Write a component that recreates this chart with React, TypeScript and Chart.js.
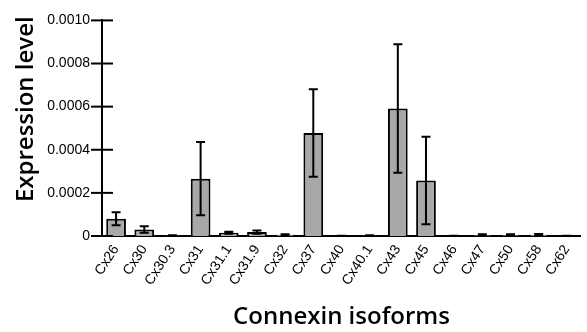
import React, { useEffect, useRef } from "react";
import { Chart, registerables } from "chart.js";

Chart.register(...registerables);

const categories = ["Cx26", "Cx30", "Cx30.3", "Cx31", "Cx31.1", "Cx31.9", "Cx32", "Cx37", "Cx40", "Cx40.1", "Cx43", "Cx45", "Cx46", "Cx47", "Cx50", "Cx58", "Cx62"];
const means = [0.00008, 0.00003, 0.000002, 0.000266, 0.000015, 0.000018, 0.000006, 0.000478, 0.000001, 0.000002, 0.000591, 0.000257, 0.000001, 0.000005, 0.000005, 0.000006, 0.000001];
const errors = [0.00003, 0.000015, 0.000001, 0.00017, 0.000005, 0.000008, 0.000002, 0.000203, 0.0000005, 0.000001, 0.000298, 0.000203, 0.0000005, 0.000003, 0.000003, 0.000003, 0.0000005];
const yTicks = [0, 0.0002, 0.0004, 0.0006, 0.0008, 0.001];
const yTitle = "Expression level";
const xTitle = "Connexin isoforms";

const errorBarPlugin = {
  id: "errorBars",
  afterDatasetsDraw(chart: any) {
    const ctx = chart.ctx;
    const meta = chart.getDatasetMeta(0);
    const y = chart.scales.y;
    ctx.save();
    ctx.strokeStyle = "#000";
    ctx.lineWidth = 2;
    meta.data.forEach((bar: any, i: number) => {
      const top = y.getPixelForValue(means[i] + errors[i]);
      const bot = y.getPixelForValue(Math.max(0, means[i] - errors[i]));
      const x = bar.x;
      ctx.beginPath();
      ctx.moveTo(x, top);
      ctx.lineTo(x, bot);
      ctx.moveTo(x - 4.5, top);
      ctx.lineTo(x + 4.5, top);
      ctx.moveTo(x - 4.5, bot);
      ctx.lineTo(x + 4.5, bot);
      ctx.stroke();
    });
    const ax = chart.chartArea.left;
    ctx.lineWidth = 2;
    yTicks.forEach((v) => {
      const py = y.getPixelForValue(v);
      ctx.beginPath();
      ctx.moveTo(ax - 11, py);
      ctx.lineTo(ax + 11, py);
      ctx.stroke();
    });
    ctx.restore();
  },
  afterDraw(chart: any) {
    const ctx = chart.ctx;
    const y = chart.scales.y;
    const cy = (y.getPixelForValue(0.001) + y.getPixelForValue(0)) / 2 - 19;
    ctx.save();
    ctx.translate(33, cy);
    ctx.rotate(-Math.PI / 2);
    ctx.fillStyle = "#000";
    ctx.font = "600 24px 'Open Sans'";
    ctx.textAlign = "center";
    ctx.textBaseline = "alphabetic";
    ctx.fillText(yTitle, 0, 0);
    ctx.restore();
  },
};

export default function App() {
  const ref = useRef<HTMLCanvasElement>(null);
  useEffect(() => {
    if (!ref.current) return;
    const chart = new Chart(ref.current, {
      type: "bar",
      data: {
        labels: categories,
        datasets: [
          {
            data: means,
            backgroundColor: "#a8a8a8",
            borderColor: "#000",
            borderWidth: 2,
            borderSkipped: "bottom",
            categoryPercentage: 1,
            barPercentage: 0.7,
          },
        ],
      },
      options: {
        animation: false,
        responsive: false,
        maintainAspectRatio: false,
        layout: { padding: { top: 12, right: 2, left: 0, bottom: 0 } },
        plugins: { legend: { display: false }, tooltip: { enabled: false } },
        scales: {
          x: {
            afterFit(scale: any) {
              scale.height = 96;
            },
            grid: { display: false, drawTicks: false },
            border: { display: true, color: "#000", width: 2 },
            ticks: {
              color: "#000",
              font: { family: "Liberation Sans", size: 14 },
              maxRotation: 57,
              minRotation: 57,
              padding: 6,
              autoSkip: false,
            },
            title: {
              display: true,
              text: xTitle,
              color: "#000",
              font: { family: "Open Sans", size: 24, weight: "600" },
              padding: { top: 0, bottom: 0 },
            },
          },
          y: {
            min: 0,
            max: 0.001,
            afterBuildTicks(scale: any) {
              scale.ticks = yTicks.map((v) => ({ value: v }));
            },
            afterFit(scale: any) {
              scale.width = 102;
            },
            grid: { display: false, drawTicks: false },
            border: { display: true, color: "#000", width: 2 },
            ticks: {
              color: "#000",
              font: { family: "Liberation Sans", size: 14 },
              padding: 12,
              callback: (v: any) => (Number(v) === 0 ? "0" : Number(v).toFixed(4)),
            },
            title: { display: false },
          },
        },
      },
      plugins: [errorBarPlugin],
    });
    return () => chart.destroy();
  }, []);
  return (
    <div style={{ position: "absolute", left: 0, top: 0, width: 587, height: 332, background: "#fff" }}>
      <canvas ref={ref} width={587} height={332} style={{ display: "block" }} />
    </div>
  );
}
